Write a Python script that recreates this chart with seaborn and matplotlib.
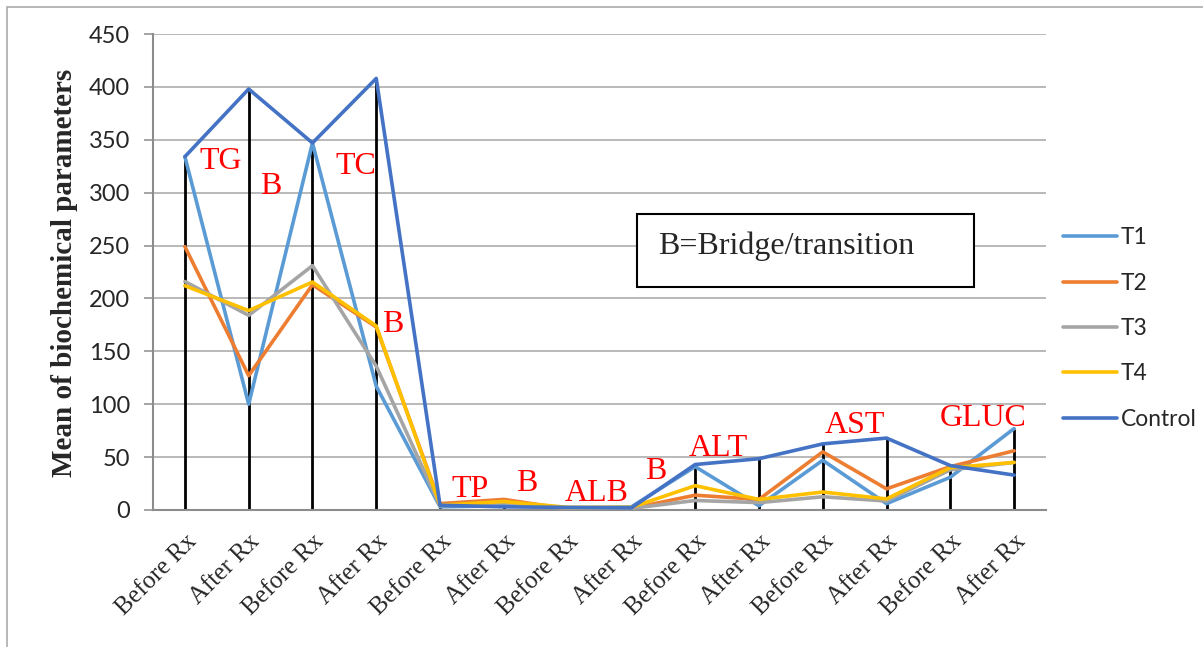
import numpy as np
import pandas as pd
import matplotlib
matplotlib.use("Agg")
import matplotlib.pyplot as plt
import matplotlib.transforms as mtransforms
from matplotlib.patches import Rectangle
import seaborn as sns

# ---------------- data ----------------
categories = ["Before Rx", "After Rx"] * 7
series_names = ["T1", "T2", "T3", "T4", "Control"]
t1 = [334, 100, 347, 117, 3, 4, 2, 3, 41, 4, 47, 6, 31, 77]
t2 = [249, 127, 213, 173, 6, 10, 1, 1.5, 14, 10, 55, 20, 41, 56]
t3 = [216, 184, 231, 136, 4, 7, 1.5, 1.5, 9, 7, 12.5, 8.5, 38, 45]
t4 = [212, 188.5, 215.5, 174, 4.5, 8, 2.5, 2.5, 23, 10, 17, 10.5, 40, 45]
control = [334, 398, 347, 408, 4.5, 3, 2.5, 2, 43, 48.5, 62.5, 68, 42, 33]
param_labels = ["TG", "B", "TC", "B", "TP", "B", "ALB", "B", "ALT", "AST", "GLUC"]
colors = ["#5B9BD5", "#ED7D31", "#A5A5A5", "#FFC000", "#4472C4"]

# ---------------- style ----------------
sns.set_style("white")
plt.rcParams["font.family"] = ["Lato", "DejaVu Sans"]

W, H = 1203, 647
fig = plt.figure(figsize=(W / 100, H / 100), dpi=100)
ax = fig.add_axes([153 / W, 1 - 510 / H, 893 / W, 476 / H])

all_series = [t1, t2, t3, t4, control]
df = pd.DataFrame({
    "pos": np.tile(np.arange(len(categories)), len(series_names)),
    "value": np.concatenate([np.asarray(s, dtype=float) for s in all_series]),
    "group": np.repeat(series_names, len(categories)),
})

# drop lines (from axis to the highest value in each category)
max_vals = np.vstack(all_series).max(axis=0)
ax.vlines(np.arange(len(categories)), 0, max_vals, colors="black",
          linewidth=2.0, zorder=2)

sns.lineplot(data=df, x="pos", y="value", hue="group", hue_order=series_names,
             palette=colors, linewidth=2.6, sort=False, estimator=None,
             ax=ax, zorder=3)

ax.set_xlim(-0.5, len(categories) - 0.5)
ax.set_ylim(0, 450)
ax.set_yticks(np.arange(0, 451, 50))
ax.grid(axis="y", color="#A6A6A6", linewidth=1.1)
ax.grid(axis="x", visible=False)
ax.set_axisbelow(True)

for s in ["top", "right"]:
    ax.spines[s].set_visible(False)
for s in ["left", "bottom"]:
    ax.spines[s].set_color("#8C8C8C")
    ax.spines[s].set_linewidth(1.5)

ax.tick_params(axis="y", length=6.5, width=1.1, color="#8C8C8C",
               labelsize=17, pad=10, left=True)
ax.set_xticks(np.arange(len(categories)))
ax.set_xticklabels(categories, rotation=45, ha="right", va="center",
                   rotation_mode="anchor", fontsize=18,
                   family="Liberation Serif")
ax.tick_params(axis="x", length=0, pad=20)
offset = mtransforms.ScaledTranslation(8 / 100, 0, fig.dpi_scale_trans)
for lab in ax.get_xticklabels():
    lab.set_transform(lab.get_transform() + offset)

ax.set_xlabel("")
ax.set_ylabel("")
fig.text(65 / W, 1 - 273 / H, "Mean of biochemical parameters", rotation=90,
         ha="center", va="center", fontsize=21, fontweight="bold",
         family="Liberation Serif")

# red parameter labels
label_pos = [(0.56, 322), (1.35, 299), (2.68, 318), (3.26, 168), (4.47, 12.3),
             (5.36, 18), (6.46, 8.5), (7.38, 29.4), (8.37, 51), (10.5, 73),
             (12.51, 79.6)]
for txt, (lx, ly) in zip(param_labels, label_pos):
    ax.text(lx, ly, txt, color="#FF0000", fontsize=23, ha="center",
            va="baseline", family="Liberation Serif", zorder=5)

# annotation box
ax.add_patch(Rectangle((0.542, 0.4685), 0.919 - 0.542, 0.622 - 0.4685,
                       transform=ax.transAxes, facecolor="white",
                       edgecolor="black", linewidth=1.5, zorder=4))
ax.text(0.5655, 0.538, "B=Bridge/transition", transform=ax.transAxes,
        fontsize=23, ha="left", va="baseline", family="Liberation Serif",
        zorder=5)

# legend
handles, labels = ax.get_legend_handles_labels()
ax.legend(handles, labels, loc="center left",
          bbox_to_anchor=(1063 / W, 1 - 328.5 / H),
          bbox_transform=fig.transFigure, frameon=False,
          prop={"family": "Lato", "size": 16.4}, handlelength=2.35,
          handletextpad=0.2, labelspacing=1.07, borderpad=0,
          borderaxespad=0)

# outer chart border
fig.add_artist(Rectangle((7 / W, -0.5), 2, 0.5 + 1 - 7 / H,
                         transform=fig.transFigure, fill=False,
                         edgecolor="#ABABAB", linewidth=1.2))

fig.savefig("out.png", dpi=100)
